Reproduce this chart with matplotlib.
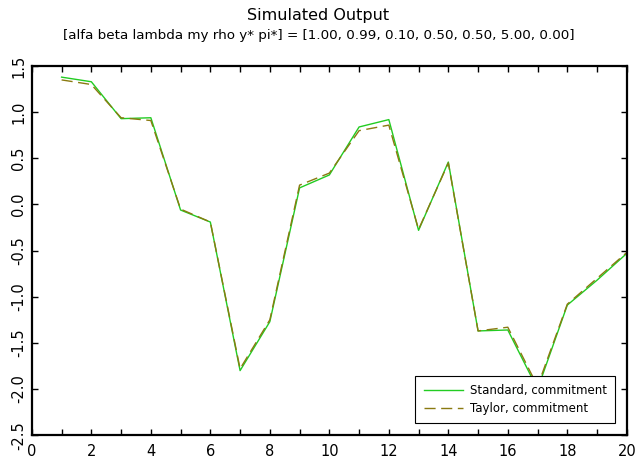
import matplotlib
matplotlib.use("Agg")
import matplotlib.pyplot as plt
from matplotlib.ticker import MultipleLocator, FormatStrFormatter

plt.rcParams['font.family'] = ['DejaVu Sans']

periods = list(range(1, 21))
standard = [1.38, 1.33, 0.93, 0.94, -0.06, -0.19, -1.80, -1.27, 0.18, 0.32,
            0.84, 0.92, -0.28, 0.46, -1.37, -1.36, -2.00, -1.09, -0.82, -0.53]
taylor = [1.35, 1.30, 0.94, 0.91, -0.05, -0.19, -1.78, -1.25, 0.21, 0.34,
          0.80, 0.86, -0.27, 0.45, -1.37, -1.33, -1.97, -1.08, -0.80, -0.52]

title = "Simulated Output"
subtitle = "[alfa beta lambda my rho y* pi*] = [1.00, 0.99, 0.10, 0.50, 0.50, 5.00, 0.00]"

fig = plt.figure(figsize=(6.37, 4.62), dpi=100)
ax = fig.add_axes([0.050, 0.058, 0.934, 0.799])

ax.plot(periods, standard, color='#22cc22', lw=1.0, label='Standard, commitment')
ax.plot(periods, taylor, color='#8a7a10', lw=1.0, dashes=(8, 4),
        label='Taylor, commitment')

ax.set_xlim(0, 20)
ax.set_ylim(-2.5, 1.5)
ax.xaxis.set_major_locator(MultipleLocator(2))
ax.xaxis.set_minor_locator(MultipleLocator(1))
ax.yaxis.set_major_locator(MultipleLocator(0.5))
ax.yaxis.set_major_formatter(FormatStrFormatter('%.1f'))

ax.tick_params(which='both', direction='in', top=True, right=True,
               length=4, width=1, labelsize=10.5)
for lab in ax.get_yticklabels():
    lab.set_rotation(90)
    lab.set_va('center')
ax.tick_params(axis='y', pad=4)
ax.tick_params(axis='x', pad=6)
for s in ax.spines.values():
    s.set_linewidth(1.6)

leg = ax.legend(loc='lower right', fontsize=8.5, fancybox=False, framealpha=1,
                edgecolor='black', borderaxespad=1.0, handlelength=3.3,
                borderpad=0.7, labelspacing=0.4, handletextpad=0.6)
leg.get_frame().set_linewidth(0.8)

fig.text(0.5, 0.967, title, ha='center', va='center', fontsize=11.5)
fig.text(0.5, 0.924, subtitle, ha='center', va='center', fontsize=9.7)

fig.savefig('out.png', dpi=100)
